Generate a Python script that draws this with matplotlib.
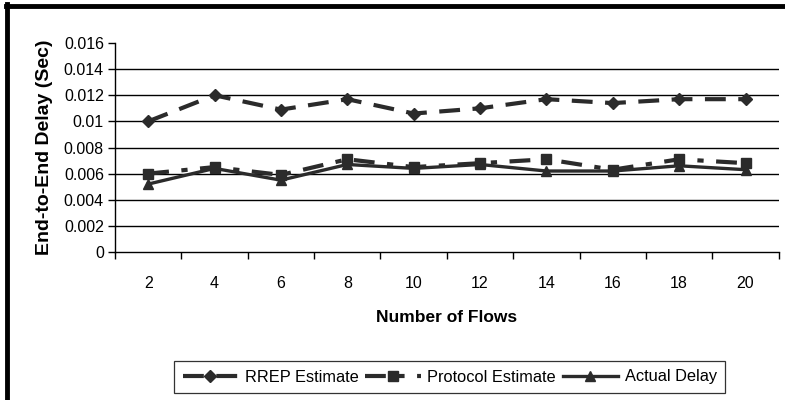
import numpy as np
from matplotlib import pyplot as plt
from matplotlib.lines import Line2D

plt.rcParams['font.family'] = ['Liberation Sans', 'DejaVu Sans']

flows = ['2', '4', '6', '8', '10', '12', '14', '16', '18', '20']
rrep = [0.0100, 0.0120, 0.0109, 0.0117, 0.0106, 0.0110, 0.0117, 0.0114, 0.0117, 0.0117]
protocol = [0.0060, 0.0065, 0.0059, 0.0071, 0.0065, 0.0068, 0.0071, 0.0063, 0.0071, 0.0068]
actual = [0.0052, 0.0064, 0.0055, 0.0067, 0.0064, 0.0067, 0.0062, 0.0062, 0.0066, 0.0063]
yticks = [0, 0.002, 0.004, 0.006, 0.008, 0.01, 0.012, 0.014, 0.016]
ytick_labels = ['0', '0.002', '0.004', '0.006', '0.008', '0.01', '0.012', '0.014', '0.016']

fig = plt.figure(figsize=(7.85, 4.0), dpi=100)
ax = fig.add_axes([0.1465, 0.37, 0.8455, 0.5225])

x = np.arange(len(flows))
col = '#2b2b2b'

# gridlines (no line at the top value)
for v in yticks[1:-1]:
    ax.axhline(v, color='black', lw=1.0, zorder=1)

ax.plot(x, rrep, color=col, lw=3.0, dashes=(5, 3), marker='D', ms=6.5,
        label='RREP Estimate', zorder=3)
ax.plot(x, protocol, color=col, lw=3.0, dashes=(5, 3, 1.5, 3), marker='s', ms=7.5,
        label='Protocol Estimate', zorder=3)
ax.plot(x, actual, color=col, lw=2.4, marker='^', ms=7.5,
        label='Actual Delay', zorder=3)

ax.set_xlim(-0.5, len(flows) - 0.5)
ax.set_ylim(0, 0.016)
ax.set_xticks(x)
ax.set_xticklabels(flows)
ax.set_xticks(np.arange(-0.5, len(flows)), minor=True)
ax.tick_params(axis='x', which='major', length=0, pad=17, labelsize=11.5)
ax.tick_params(axis='x', which='minor', length=5, width=1, direction='out')
ax.set_yticks(yticks)
ax.set_yticklabels(ytick_labels)
ax.tick_params(axis='y', length=5, width=1, direction='out', labelsize=11.5, pad=3)

for s in ['top', 'right']:
    ax.spines[s].set_visible(False)
ax.spines['left'].set_linewidth(1.0)
ax.spines['bottom'].set_linewidth(1.0)

ax.set_xlabel('Number of Flows', fontsize=12.5, fontweight='bold', labelpad=14)
ax.set_ylabel('End-to-End Delay (Sec)', fontsize=14, fontweight='bold', labelpad=8)

leg = fig.legend(loc='center', bbox_to_anchor=(0.573, 0.0575), ncol=3,
                 fontsize=11.8, frameon=True, fancybox=False, handlelength=3.4,
                 columnspacing=0.4, handletextpad=0.4, borderpad=0.5)
leg.get_frame().set_edgecolor('black')
leg.get_frame().set_linewidth(0.9)

# thick frame on left and top
fig.add_artist(Line2D([0.0095, 0.0095], [0, 0.99], transform=fig.transFigure,
                      color='black', lw=3.5))
fig.add_artist(Line2D([0.0075, 1.0], [0.986, 0.986], transform=fig.transFigure,
                      color='black', lw=3.5))

plt.savefig('out.png', dpi=100)
